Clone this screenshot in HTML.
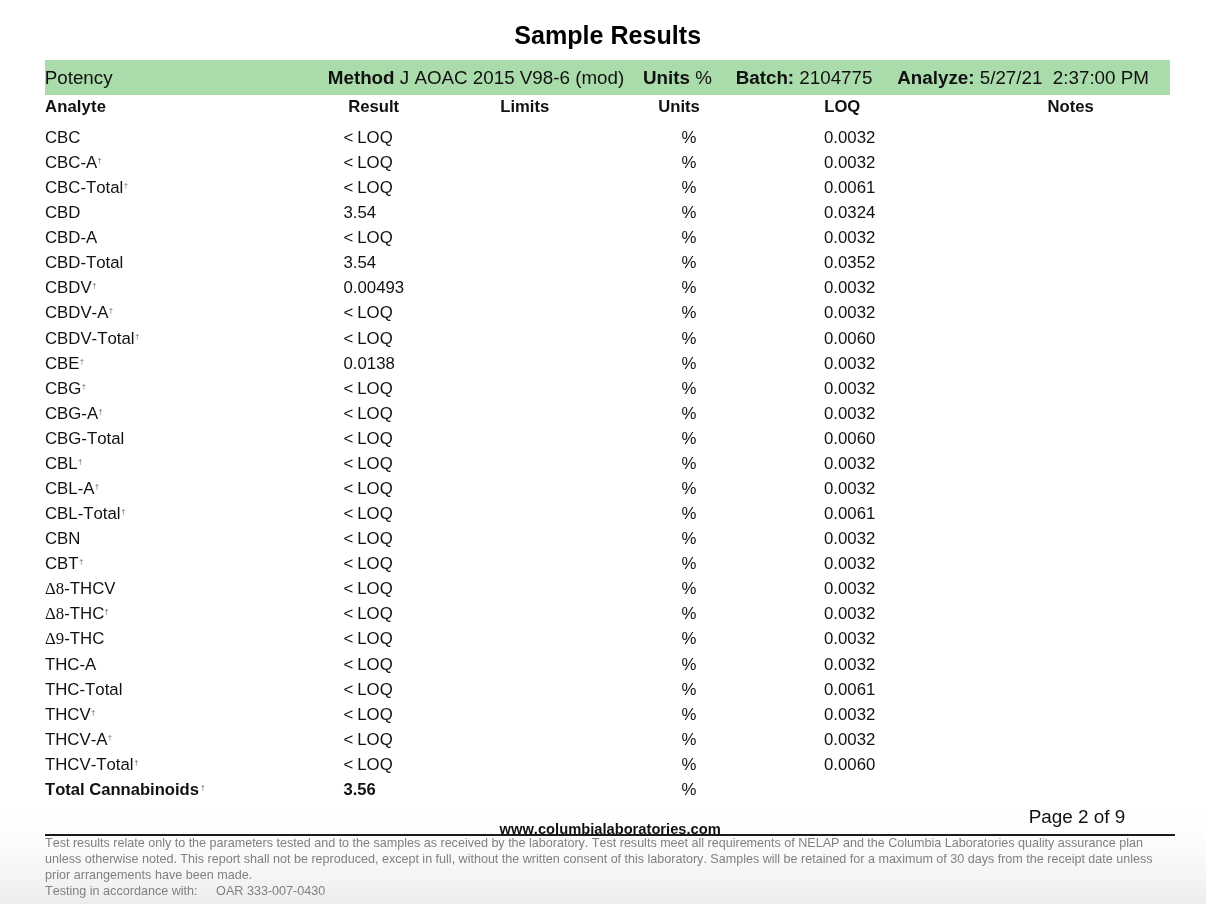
<!DOCTYPE html>
<html><head><meta charset="utf-8"><title>Sample Results</title>
<style>
html,body{margin:0;padding:0;}
body{width:1206px;height:904px;position:relative;overflow:hidden;background:linear-gradient(to bottom,#fff 0,#fff 812px,#fcfcfc 842px,#f6f6f6 873px,#f1f1f1 890px,#ededed 904px);font-family:"Liberation Sans",Arial,sans-serif;color:#111;font-kerning:none;}
.abs{position:absolute;white-space:nowrap;}
h1{position:absolute;margin:0;left:0;width:1215.4px;top:20.6px;text-align:center;font-size:25.1px;line-height:28px;font-weight:bold;color:#000;}
.bar{position:absolute;left:45px;top:60px;width:1124.5px;height:34.5px;background:#a9dbab;}
.bt{position:absolute;top:65.8px;font-size:18.8px;line-height:24px;white-space:nowrap;}
.h{position:absolute;top:95.5px;font-size:16.65px;transform:translateX(-50%);line-height:22px;font-weight:bold;white-space:nowrap;}
.r{position:absolute;left:0;width:1206px;height:25px;font-size:16.8px;line-height:25px;}
.r span{position:absolute;top:0;white-space:nowrap;}
.r .a{left:45px;} .r .v{left:343.5px;word-spacing:-0.7px;} .r .u{left:681.6px;} .r .q{left:824px;}
.r .a .sy{position:static;font-family:"Liberation Serif",serif;}
sup{font-size:7px;vertical-align:baseline;position:relative;top:-5px;margin-left:0.6px;color:#555;font-weight:normal;}
.tot{font-weight:bold;font-size:16.6px !important;}
.line{position:absolute;left:45px;top:834px;width:1129.7px;height:1.8px;background:#1a1a1a;}
.www{position:absolute;left:499.6px;top:820.6px;font-size:14.7px;line-height:16px;font-weight:bold;white-space:nowrap;}
.pg{position:absolute;left:1028.7px;top:806px;font-size:18.9px;line-height:22px;white-space:nowrap;}
.ft{position:absolute;left:45px;top:836.6px;width:1150px;font-size:12.6px;line-height:15.65px;color:#808080;}
.ft div{white-space:nowrap;}
</style></head><body>
<h1>Sample Results</h1>
<div class="bar"></div>
<div class="bt" style="left:44.7px">Potency</div>
<div class="bt" style="left:327.8px"><b>Method</b> J AOAC 2015 V98-6 (mod)</div>
<div class="bt" style="left:643px"><b>Units</b> %</div>
<div class="bt" style="left:735.7px"><b>Batch:</b> 2104775</div>
<div class="bt" style="left:897.3px"><b>Analyze:</b> 5/27/21&nbsp; 2:37:00 PM</div>
<div class="h" style="left:45px;transform:none;letter-spacing:0.14px">Analyte</div>
<div class="h" style="left:373.7px">Result</div>
<div class="h" style="left:524.8px">Limits</div>
<div class="h" style="left:679px">Units</div>
<div class="h" style="left:842.3px">LOQ</div>
<div class="h" style="left:1070.7px">Notes</div>
<div class="r" style="top:125.00px"><span class="a">CBC</span><span class="v">&lt; LOQ</span><span class="u">%</span><span class="q">0.0032</span></div>
<div class="r" style="top:150.00px"><span class="a">CBC-A<sup>†</sup></span><span class="v">&lt; LOQ</span><span class="u">%</span><span class="q">0.0032</span></div>
<div class="r" style="top:175.00px"><span class="a">CBC-Total<sup>†</sup></span><span class="v">&lt; LOQ</span><span class="u">%</span><span class="q">0.0061</span></div>
<div class="r" style="top:200.00px"><span class="a">CBD</span><span class="v">3.54</span><span class="u">%</span><span class="q">0.0324</span></div>
<div class="r" style="top:225.00px"><span class="a">CBD-A</span><span class="v">&lt; LOQ</span><span class="u">%</span><span class="q">0.0032</span></div>
<div class="r" style="top:250.00px"><span class="a">CBD-Total</span><span class="v">3.54</span><span class="u">%</span><span class="q">0.0352</span></div>
<div class="r" style="top:275.00px"><span class="a">CBDV<sup>†</sup></span><span class="v">0.00493</span><span class="u">%</span><span class="q">0.0032</span></div>
<div class="r" style="top:300.00px"><span class="a">CBDV-A<sup>†</sup></span><span class="v">&lt; LOQ</span><span class="u">%</span><span class="q">0.0032</span></div>
<div class="r" style="top:326.00px"><span class="a">CBDV-Total<sup>†</sup></span><span class="v">&lt; LOQ</span><span class="u">%</span><span class="q">0.0060</span></div>
<div class="r" style="top:351.00px"><span class="a">CBE<sup>†</sup></span><span class="v">0.0138</span><span class="u">%</span><span class="q">0.0032</span></div>
<div class="r" style="top:376.00px"><span class="a">CBG<sup>†</sup></span><span class="v">&lt; LOQ</span><span class="u">%</span><span class="q">0.0032</span></div>
<div class="r" style="top:401.00px"><span class="a">CBG-A<sup>†</sup></span><span class="v">&lt; LOQ</span><span class="u">%</span><span class="q">0.0032</span></div>
<div class="r" style="top:426.00px"><span class="a">CBG-Total</span><span class="v">&lt; LOQ</span><span class="u">%</span><span class="q">0.0060</span></div>
<div class="r" style="top:451.00px"><span class="a">CBL<sup>†</sup></span><span class="v">&lt; LOQ</span><span class="u">%</span><span class="q">0.0032</span></div>
<div class="r" style="top:476.00px"><span class="a">CBL-A<sup>†</sup></span><span class="v">&lt; LOQ</span><span class="u">%</span><span class="q">0.0032</span></div>
<div class="r" style="top:501.00px"><span class="a">CBL-Total<sup>†</sup></span><span class="v">&lt; LOQ</span><span class="u">%</span><span class="q">0.0061</span></div>
<div class="r" style="top:526.00px"><span class="a">CBN</span><span class="v">&lt; LOQ</span><span class="u">%</span><span class="q">0.0032</span></div>
<div class="r" style="top:551.00px"><span class="a">CBT<sup>†</sup></span><span class="v">&lt; LOQ</span><span class="u">%</span><span class="q">0.0032</span></div>
<div class="r" style="top:576.00px"><span class="a"><span class="sy">Δ8</span>-THCV</span><span class="v">&lt; LOQ</span><span class="u">%</span><span class="q">0.0032</span></div>
<div class="r" style="top:601.00px"><span class="a"><span class="sy">Δ8</span>-THC<sup>†</sup></span><span class="v">&lt; LOQ</span><span class="u">%</span><span class="q">0.0032</span></div>
<div class="r" style="top:626.00px"><span class="a"><span class="sy">Δ9</span>-THC</span><span class="v">&lt; LOQ</span><span class="u">%</span><span class="q">0.0032</span></div>
<div class="r" style="top:652.00px"><span class="a">THC-A</span><span class="v">&lt; LOQ</span><span class="u">%</span><span class="q">0.0032</span></div>
<div class="r" style="top:677.00px"><span class="a">THC-Total</span><span class="v">&lt; LOQ</span><span class="u">%</span><span class="q">0.0061</span></div>
<div class="r" style="top:702.00px"><span class="a">THCV<sup>†</sup></span><span class="v">&lt; LOQ</span><span class="u">%</span><span class="q">0.0032</span></div>
<div class="r" style="top:727.00px"><span class="a">THCV-A<sup>†</sup></span><span class="v">&lt; LOQ</span><span class="u">%</span><span class="q">0.0032</span></div>
<div class="r" style="top:752.00px"><span class="a">THCV-Total<sup>†</sup></span><span class="v">&lt; LOQ</span><span class="u">%</span><span class="q">0.0060</span></div>
<div class="r tot" style="top:777.00px"><span class="a">Total Cannabinoids<sup style="margin-left:2px">†</sup></span><span class="v">3.56</span><span class="u" style="font-weight:normal;font-size:16.8px">%</span></div>
<div class="pg">Page 2 of 9</div>
<div class="www">www.columbialaboratories.com</div>
<div class="line"></div>
<div class="ft"><div style="position:relative;top:-1px;letter-spacing:-0.02px">Test results relate only to the parameters tested and to the samples as received by the laboratory. Test results meet all requirements of NELAP and the Columbia Laboratories quality assurance plan</div><div style="letter-spacing:-0.02px">unless otherwise noted. This report shall not be reproduced, except in full, without the written consent of this laboratory. Samples will be retained for a maximum of 30 days from the receipt date unless</div><div>prior arrangements have been made.</div><div>Testing in accordance with:<span style="display:inline-block;width:18.5px"></span>OAR 333-007-0430</div></div>
</body></html>
